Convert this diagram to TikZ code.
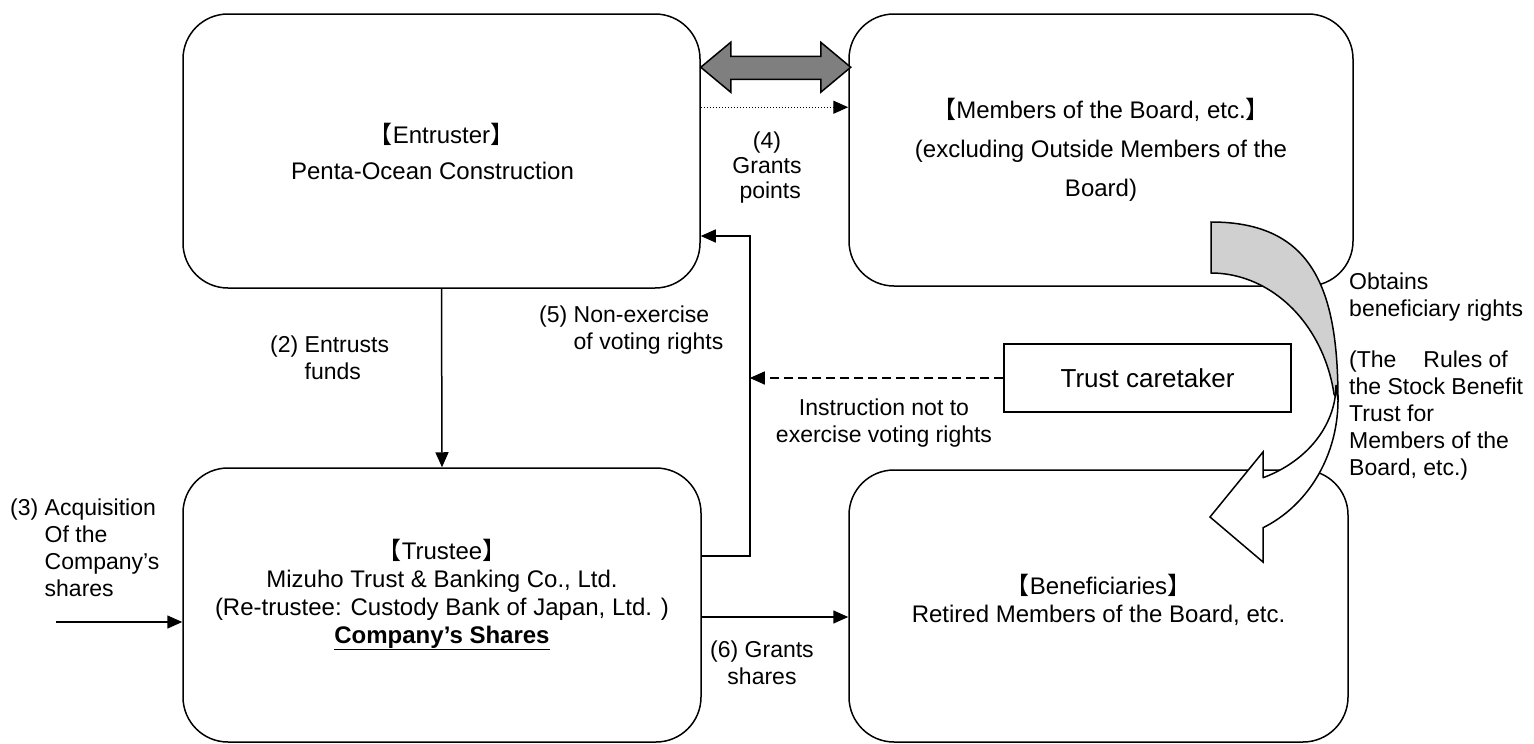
\documentclass[tikz,border=0pt]{standalone}
\usepackage{fontspec}
\setmainfont{Liberation Sans}
\newfontfamily\cjk{Noto Sans CJK JP}
\usetikzlibrary{arrows.meta,calc}
\definecolor{arrowgray}{HTML}{7F7F7F}
\definecolor{bandgray}{HTML}{D0D0D0}
\newcommand{\lbr}{{\cjk 【}}
\newcommand{\rbr}{{\cjk 】}}

\begin{document}
\begin{tikzpicture}[x=1pt,y=-1pt,
    box/.style={draw,line width=1.5pt,rounded corners=45pt,fill=white,align=center,
      font=\fontsize{24}{28}\selectfont},
    lbl/.style={inner sep=0pt,font=\fontsize{23}{27}\selectfont},
    arr/.style={line width=1.5pt,-{Triangle[length=15pt,width=13pt]}}]
  \useasboundingbox (0,0) rectangle (1534,744);

  \node[box,minimum width=517pt,minimum height=274pt] (entruster) at (441.5,151)
    {\lbr Entruster\rbr\\[8pt]Penta-Ocean Construction\hspace*{18pt}};
  \node[box,minimum width=504pt,minimum height=272pt] (members) at (1101,150)
    {\lbr Members of the Board, etc.\rbr\\[11pt](excluding Outside Members of the\\[11pt]Board)};
  \node[box,minimum width=518pt,minimum height=274pt] (trustee) at (442,605)
    {\lbr Trustee\rbr\\Mizuho Trust \& Banking Co., Ltd.\\(Re-trustee: Custody Bank of Japan, Ltd. )\\
     \underline{\textbf{Company’s Shares}}\\\mbox{}};
  \node[box,minimum width=499pt,minimum height=272pt] (benef) at (1098.5,606)
    {\lbr Beneficiaries\rbr\\Retired Members of the Board, etc.\\[-12pt]\mbox{}};
  \node[draw,line width=1.5pt,minimum width=287pt,minimum height=68pt,
    font=\fontsize{26}{30}\selectfont] (caretaker) at (1147.5,378) {Trust caretaker};

  % entruster <-> members
  \draw[line width=1.5pt,fill=arrowgray] ([yshift=-54pt]entruster.north east) -- ++(30,-25) -- ++(0,14)
    -- ++(90,0) -- ++(0,-14) -- ++(30,25) -- ++(-30,25) -- ++(0,-13) -- ++(-90,0) -- ++(0,13) -- cycle;
  \coordinate (pts) at ([yshift=-94pt]entruster.north east);
  \draw[arr,line width=1.3pt,dash pattern=on 1.3pt off 1.7pt] (pts) -- (pts -| members.west);
  \node[lbl,align=center,font=\fontsize{23}{25}\selectfont] (lbl4) at (767,168) {(4)\\Grants\\\ points};

  \draw[arr] (entruster.south) -- (trustee.north);
  \node[lbl,align=left,anchor=west] (lbl2) at (270,360.5) {(2) Entrusts\\\phantom{(2) }funds};

  \draw[arr] ([yshift=49pt]trustee.east) -- ++(48,0) coordinate (turn) |- ([yshift=-85pt]entruster.east);
  \node[lbl,align=left,anchor=west] (lbl5) at (539,330.5) {(5) Non-exercise\\\phantom{(5) }of voting rights};

  \draw[arr,dash pattern=on 9pt off 5pt] (caretaker.west) -- (caretaker.west -| turn);
  \node[lbl,align=center] (lblins) at (884,423) {Instruction not to\\exercise voting rights};

  \coordinate (buy) at (56,622);
  \draw[arr] (buy) -- (buy -| trustee.west);
  \node[lbl,align=left,anchor=west] (lbl3) at (10,550)
    {(3) Acquisition\\\phantom{(3) }Of the\\\phantom{(3) }Company’s\\\phantom{(3) }shares};

  \draw[arr] ([yshift=-12pt]trustee.east) -- ([yshift=-12pt]trustee.east -| benef.west);
  \node[lbl,align=center] (lbl6) at (762,663) {(6) Grants\\shares};

  % curved arrow
  \filldraw[line width=1.5pt,fill=bandgray] (1211,222) -- (1211,273)
    -- plot[domain=-90:-10,samples=40,variable=\t] ({1211+125*cos(\t)},{420+147*sin(\t)})
    -- (1338,400) .. controls (1338,291) and (1314,222) .. (1211,222) -- cycle;
  \filldraw[line width=1.5pt,fill=white]
    plot[domain=0:65.8,samples=40,variable=\t] ({1211+127*cos(\t)},{400+140*sin(\t)})
    -- (1263,562) -- (1210,517) -- (1263,452) -- (1263,478)
    -- plot[domain=65.4:0,samples=40,variable=\t] ({1211+125*cos(\t)},{385+102*sin(\t)}) -- cycle;
  \node[lbl,align=left,anchor=west] (lblobt) at (1349,377)
    {Obtains\\beneficiary rights\\[24pt](The\hspace{27pt}Rules of\\the Stock Benefit\\Trust for\\Members of the\\Board, etc.)};
\end{tikzpicture}
\end{document}
